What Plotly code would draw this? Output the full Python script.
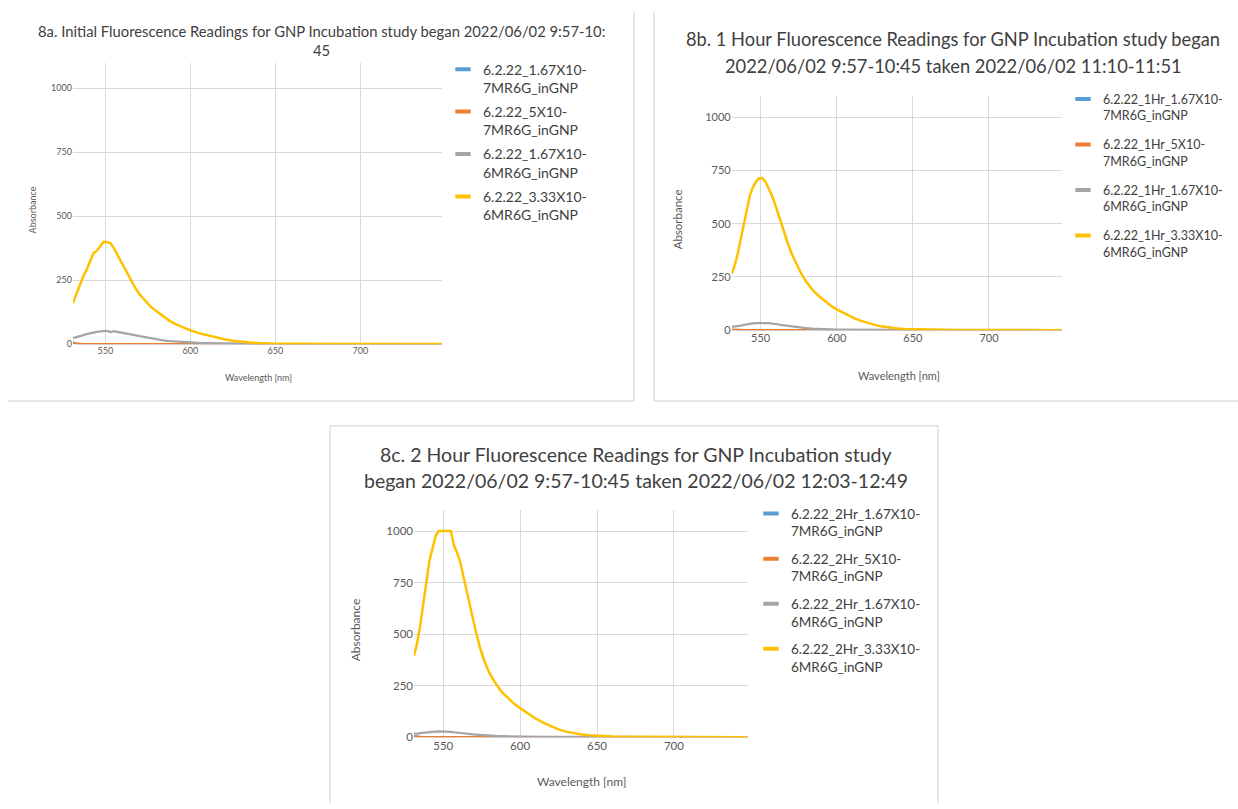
import plotly.graph_objects as go

W, H = 1238, 809
FONT = "Lato, Carlito, Calibri, sans-serif"

# ---------------- data ----------------
wavelength = [531, 533, 535, 537, 539, 541, 543, 545, 547, 549, 551, 553, 555, 557, 559, 561, 563, 565,
              568, 571, 574, 577, 580, 584, 588, 592, 596, 600,
              605, 610, 615, 620, 625, 630, 635, 640, 645, 650,
              660, 670, 680, 690, 700, 710, 720, 730, 740, 748]

# 8a initial
a_167e7 = [8, 1, 0.5, 0.4, 0.4, 0.3, 0.3, 0.3, 0.3, 0.3, 0.3, 0.3, 0.3, 0.3, 0.3, 0.3, 0.3, 0.3,
           0.2, 0.2, 0.2, 0.2, 0.2, 0.2, 0.2, 0.2, 0.2, 0.2,
           0.1, 0.1, 0.1, 0.1, 0.1, 0.1, 0.1, 0.1, 0.1, 0.1,
           0.1, 0.1, 0.1, 0.1, 0.1, 0.1, 0.1, 0.1, 0.1, 0.1]
a_5e7 = [3, 1.5, 1, 0.8, 0.8, 0.7, 0.7, 0.7, 0.7, 0.7, 0.7, 0.6, 0.6, 0.6, 0.6, 0.6, 0.6, 0.6,
         0.5, 0.5, 0.5, 0.5, 0.5, 0.4, 0.4, 0.4, 0.4, 0.4,
         0.3, 0.3, 0.3, 0.3, 0.3, 0.3, 0.3, 0.3, 0.3, 0.3,
         0.2, 0.2, 0.2, 0.2, 0.2, 0.2, 0.2, 0.2, 0.2, 0.2]
a_167e6 = [23, 26, 30, 35, 39, 43, 46, 48, 50, 51, 52, 47, 51, 48, 45, 43, 40, 38,
           34, 30, 26, 22, 19, 15, 12, 10, 8, 6,
           5, 4, 3, 2, 1.5, 1, 0.8, 0.5, 0.4, 0.3,
           0.2, 0.2, 0.1, 0.1, 0.1, 0.1, 0.1, 0.1, 0.1, 0.1]
a_333e6 = [160, 195, 235, 265, 290, 320, 355, 365, 385, 400, 398, 395, 375, 350, 325, 300, 275, 248,
           215, 188, 165, 145, 129, 108, 90, 76, 64, 54,
           43, 34, 26, 19, 13, 9, 6, 4, 2.5, 1.5,
           1, 0.5, 0.5, 0.3, 0.3, 0.2, 0.2, 0.2, 0.1, 0.1]

# 8b 1 hour
b_167e7 = [1, 0.5, 0.4, 0.4, 0.3, 0.3, 0.3, 0.3, 0.3, 0.3, 0.3, 0.3, 0.3, 0.3, 0.3, 0.3, 0.3, 0.3,
           0.2, 0.2, 0.2, 0.2, 0.2, 0.2, 0.2, 0.2, 0.2, 0.2,
           0.1, 0.1, 0.1, 0.1, 0.1, 0.1, 0.1, 0.1, 0.1, 0.1,
           0.1, 0.1, 0.1, 0.1, 0.1, 0.1, 0.1, 0.1, 0.1, 0.1]
b_5e7 = [3, 2, 1.5, 1.2, 1.2, 1.1, 1.1, 1, 1, 1, 1, 1, 1, 1, 1, 1, 1, 1,
         0.9, 0.9, 0.9, 0.9, 0.8, 0.8, 0.8, 0.7, 0.7, 0.7,
         0.6, 0.6, 0.6, 0.5, 0.5, 0.5, 0.5, 0.4, 0.4, 0.4,
         0.4, 0.3, 0.3, 0.3, 0.3, 0.3, 0.3, 0.3, 0.3, 0.3]
b_167e6 = [16, 17, 19, 22, 25, 28, 30, 32, 33, 34, 34, 34, 33, 32, 30, 28, 25, 23,
           20, 17, 14, 12, 10, 8, 6, 5, 4, 3,
           2.5, 2, 1.5, 1.2, 1, 0.8, 0.6, 0.5, 0.4, 0.3,
           0.3, 0.2, 0.2, 0.2, 0.2, 0.1, 0.1, 0.1, 0.1, 0.1]
b_333e6 = [265, 305, 360, 430, 505, 580, 635, 672, 698, 714, 715, 700, 672, 640, 603, 560, 510, 468,
           405, 350, 305, 262, 228, 190, 162, 138, 116, 98,
           78, 62, 46, 35, 25, 17, 11, 8, 6, 5,
           3, 2, 1.5, 1, 1, 0.8, 0.6, 0.5, 0.4, 0.3]

# 8c 2 hour
c_167e7 = [2, 0.8, 0.5, 0.4, 0.4, 0.3, 0.3, 0.3, 0.3, 0.3, 0.3, 0.3, 0.3, 0.3, 0.3, 0.3, 0.3, 0.3,
           0.2, 0.2, 0.2, 0.2, 0.2, 0.2, 0.2, 0.2, 0.2, 0.2,
           0.1, 0.1, 0.1, 0.1, 0.1, 0.1, 0.1, 0.1, 0.1, 0.1,
           0.1, 0.1, 0.1, 0.1, 0.1, 0.1, 0.1, 0.1, 0.1, 0.1]
c_5e7 = [6, 3, 2, 1.5, 1.5, 1.4, 1.4, 1.3, 1.3, 1.3, 1.3, 1.2, 1.2, 1.2, 1.2, 1.1, 1.1, 1.1,
         1, 1, 1, 1, 0.9, 0.9, 0.9, 0.8, 0.8, 0.8,
         0.7, 0.7, 0.7, 0.6, 0.6, 0.6, 0.5, 0.5, 0.5, 0.5,
         0.4, 0.4, 0.4, 0.4, 0.3, 0.3, 0.3, 0.3, 0.3, 0.3]
c_167e6 = [18, 16, 20, 22, 24, 25, 26, 27, 28, 28, 27, 27, 26, 24, 23, 21, 19, 17,
           15, 12, 10, 8, 7, 6, 5, 4, 3.5, 3,
           2.5, 2, 1.5, 1.2, 1, 0.8, 0.6, 0.5, 0.4, 0.3,
           0.3, 0.2, 0.2, 0.2, 0.2, 0.1, 0.1, 0.1, 0.1, 0.1]
c_333e6 = [395, 455, 540, 640, 745, 855, 915, 975, 1000, 1000, 1000, 1000, 1000, 930, 895, 850, 785, 710,
           610, 520, 432, 365, 312, 262, 220, 190, 163, 141,
           115, 91, 71, 53, 38, 27, 19, 13, 9, 6,
           3, 2, 1.5, 1, 1, 0.8, 0.6, 0.5, 0.4, 0.3]

names_a = ["6.2.22_1.67X10-<br>7MR6G_inGNP", "6.2.22_5X10-<br>7MR6G_inGNP",
           "6.2.22_1.67X10-<br>6MR6G_inGNP", "6.2.22_3.33X10-<br>6MR6G_inGNP"]
names_b = ["6.2.22_1Hr_1.67X10-<br>7MR6G_inGNP", "6.2.22_1Hr_5X10-<br>7MR6G_inGNP",
           "6.2.22_1Hr_1.67X10-<br>6MR6G_inGNP", "6.2.22_1Hr_3.33X10-<br>6MR6G_inGNP"]
names_c = ["6.2.22_2Hr_1.67X10-<br>7MR6G_inGNP", "6.2.22_2Hr_5X10-<br>7MR6G_inGNP",
           "6.2.22_2Hr_1.67X10-<br>6MR6G_inGNP", "6.2.22_2Hr_3.33X10-<br>6MR6G_inGNP"]

x_ticks = [550, 600, 650, 700]
y_ticks = [0, 250, 500, 750, 1000]

colors = ["#5B9BD5", "#ED7D31", "#A5A5A5", "#FFC000"]
widths = [2, 2, 2.2, 2.5]

# ---------------- helpers ----------------
def px_x(v):
    return v / W

def px_y(v):
    return 1 - v / H

fig = go.Figure()

charts = [
    dict(key="a", xa="x", ya="y", leg="legend", names=names_a,
         ys=[a_167e7, a_5e7, a_167e6, a_333e6]),
    dict(key="b", xa="x2", ya="y2", leg="legend2", names=names_b,
         ys=[b_167e7, b_5e7, b_167e6, b_333e6]),
    dict(key="c", xa="x3", ya="y3", leg="legend3", names=names_c,
         ys=[c_167e7, c_5e7, c_167e6, c_333e6]),
]

for ch in charts:
    for i, (nm, ys) in enumerate(zip(ch["names"], ch["ys"])):
        grp = ch["key"] + str(i)
        # the data line
        fig.add_trace(go.Scatter(
            x=wavelength, y=ys, mode="lines", name=nm,
            line=dict(color=colors[i], width=widths[i]),
            xaxis=ch["xa"], yaxis=ch["ya"], legend=ch["leg"],
            legendgroup=grp, showlegend=False,
        ))
        # legend entry with a short Excel-like swatch
        fig.add_trace(go.Scatter(
            x=[None], y=[None], mode="markers", name=nm,
            marker=dict(symbol="line-ew", size=11, color=colors[i],
                        line=dict(color=colors[i], width=4)),
            xaxis=ch["xa"], yaxis=ch["ya"], legend=ch["leg"],
            legendgroup=grp, showlegend=True, hoverinfo="skip",
        ))

# plot-area geometry (pixels): left, right, top(1100), bottom(0)
geo = {
    "a": dict(l=73, r=442, t=63, b=346.7, tick=9),
    "b": dict(l=731.7, r=1062, t=96.7, b=332.7, tick=11),
    "c": dict(l=414, r=747.7, t=514.3, b=742.7, tick=11.5),
}

def xaxis_cfg(g, anchor):
    return dict(domain=[px_x(g["l"]), px_x(g["r"])], range=[531, 748], anchor=anchor,
                tickvals=x_ticks, showgrid=True, gridcolor="#d9d9d9", gridwidth=1,
                zeroline=False, showline=False, ticks="",
                tickfont=dict(family=FONT, size=g["tick"], color="#595959"))

def yaxis_cfg(g, anchor):
    return dict(domain=[px_y(g["b"]), px_y(g["t"])], range=[0, 1100], anchor=anchor,
                tickvals=y_ticks, showgrid=True, gridcolor="#d9d9d9", gridwidth=1,
                zeroline=False, showline=False, ticks="",
                tickfont=dict(family=FONT, size=g["tick"], color="#595959"))

def legend_cfg(xpx, ypx, size, gap):
    return dict(x=px_x(xpx), y=px_y(ypx), xanchor="left", yanchor="top",
                font=dict(family=FONT, size=size, color="#404040"),
                bgcolor="rgba(0,0,0,0)", tracegroupgap=gap, itemwidth=30,
                traceorder="grouped", valign="top")

annotations = []

def ann(text, xpx, ypx, size, color="#404040", angle=0):
    annotations.append(dict(text=text, x=px_x(xpx), y=px_y(ypx), xref="paper", yref="paper",
                            showarrow=False, xanchor="center", yanchor="middle",
                            textangle=angle, font=dict(family=FONT, size=size, color=color)))

# titles
ann("8a. Initial Fluorescence Readings for GNP Incubation study began 2022/06/02 9:57-10:", 321, 31.7, 14.8)
ann("45", 321, 50.7, 14.8)
ann("8b. 1 Hour Fluorescence Readings for GNP Incubation study began", 953, 39.3, 18.3)
ann("2022/06/02 9:57-10:45 taken 2022/06/02 11:10-11:51", 953, 66, 18.3)
ann("8c. 2 Hour Fluorescence Readings for GNP Incubation study", 635.5, 457.7, 19.5)
ann("began 2022/06/02 9:57-10:45 taken 2022/06/02 12:03-12:49", 635.5, 484.3, 19.5)

# axis titles
ann("Absorbance", 32, 212, 9, "#595959", -90)
ann("Wavelength [nm]", 258, 380, 9, "#595959")
ann("Absorbance", 677, 221, 11.5, "#595959", -90)
ann("Wavelength [nm]", 899, 378, 11, "#595959")
ann("Absorbance", 355, 635, 12, "#595959", -90)
ann("Wavelength [nm]", 581, 787, 12, "#595959")

# chart frames
BORDER = "#d0d0d0"
shapes = []

def seg(x0, y0, x1, y1):
    shapes.append(dict(type="line", xref="paper", yref="paper",
                       x0=px_x(x0), y0=px_y(y0), x1=px_x(x1), y1=px_y(y1),
                       line=dict(color=BORDER, width=1)))

seg(634, 11, 634, 404)
seg(8, 404, 634, 404)
seg(654, 11, 654, 404)
seg(654, 404, 1238, 404)
seg(330, 429, 938, 429)
seg(330, 429, 330, 809)
seg(938, 429, 938, 809)

fig.update_layout(
    width=W, height=H, margin=dict(l=0, r=0, t=0, b=0),
    paper_bgcolor="white", plot_bgcolor="white",
    xaxis=xaxis_cfg(geo["a"], "y"), yaxis=yaxis_cfg(geo["a"], "x"),
    xaxis2=xaxis_cfg(geo["b"], "y2"), yaxis2=yaxis_cfg(geo["b"], "x2"),
    xaxis3=xaxis_cfg(geo["c"], "y3"), yaxis3=yaxis_cfg(geo["c"], "x3"),
    legend=legend_cfg(443, 54, 14, 3),
    legend2=legend_cfg(1063, 85, 12.5, 10),
    legend3=legend_cfg(751, 502, 13.5, 7),
    annotations=annotations, shapes=shapes,
    showlegend=True,
)

fig.write_html("out.html")
